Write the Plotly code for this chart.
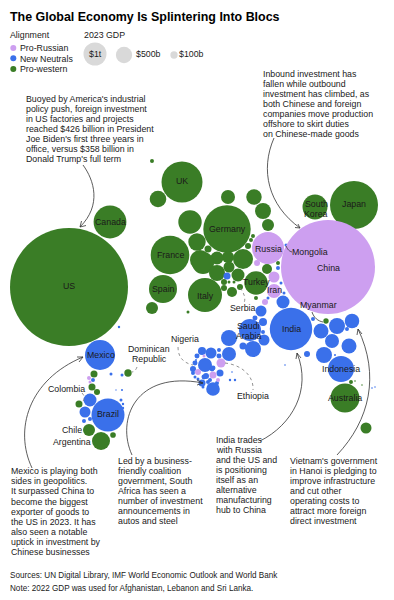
import plotly.graph_objects as go

GREEN = "#3a7d26"
BLUE = "#3a70ea"
PURPLE = "#cd9ff0"
GRAY = "#d9d9d9"
INK = "#1a1a1a"
FONT = "Liberation Sans"

# Bubble position on the packed layout and 2023 GDP in $ billions
western_x = [69,110,182,152,158,228,254,190,227,263,268,315,354,170,163,152,188,197,208,200,243,228,217,203,229,217,238,232,224,224,229,234,240,256,267,248,251,253,205,278,256,351,326,345,366,355,362,94,92,97,79,89,101,113,128]
western_y = [287,222,182,161,199,197,197,222,229,211,225,207,205,255,289,308,312,242,249,260,259,257,258,263,267,273,275,292,288,282,282,282,287,283,269,246,240,236,295,263,298,382,321,398,428,381,385,374,387,392,404,430,441,435,373]
western_gdp = [26316,2033,3177,30,520,370,450,1035,4246,480,272,1180,4355,2816,1482,272,17,572,93,756,756,272,319,915,229,484,319,189,68,68,17,17,68,1035,189,68,30,30,2185,30,30,30,55,1590,229,5,4,93,93,68,93,272,612,60,103]

neutral_x = [227,286,278,281,284,268,283,261,263,255,291,250,229,253,229,264,243,263,313,321,337,332,352,347,349,324,335,307,285,341,372,375,202,211,219,219,205,197,195,193,220,213,202,204,212,208,217,195,203,230,235,232,196,100,93,90,85,84,90,108,121,123,123,122,111,122,116,119,206,193,210,213,198]
neutral_y = [276,245,268,283,293,298,302,311,322,318,329,330,338,349,354,340,346,332,319,331,326,341,321,329,346,355,355,354,365,369,388,387,351,353,350,356,365,356,363,369,373,389,383,377,369,382,383,377,387,380,380,372,360,355,380,400,412,421,419,415,400,404,408,375,374,390,390,327,376,373,380,368,379]
neutral_gdp = [93,17,30,17,17,17,319,229,121,47,3400,915,484,484,370,229,93,30,30,425,484,370,400,30,425,484,8,68,5,1278,5,4,121,229,30,47,370,47,47,68,93,350,93,47,47,30,30,17,17,11,11,5,8,1700,30,319,229,30,30,2058,17,11,11,17,17,8,3,11,68,30,30,47,17]

russian_x = [268,328,274,274,265,257,221,198,213,204,218,89,90]
russian_y = [248,267,277,291,302,263,363,372,375,356,380,378,382]
russian_gdp = [1935,16700,229,370,68,68,153,68,93,17,30,30,17]

legend_sizes = [1000, 500, 100]
legend_size_x = [95, 124, 174]
legend_size_y = [54, 55, 55]
legend_size_labels = ["$1t", "$500b", "$100b"]

SIZEREF = 3.78

fig = go.Figure()
for xs, ys, gs, col in [(western_x, western_y, western_gdp, GREEN),
                        (neutral_x, neutral_y, neutral_gdp, BLUE),
                        (russian_x, russian_y, russian_gdp, PURPLE)]:
    fig.add_trace(go.Scatter(x=xs, y=ys, mode="markers",
                             marker=dict(size=gs, sizemode="area", sizeref=SIZEREF, sizemin=0.5, opacity=1,
                                         color=col, line=dict(width=0))))
fig.add_trace(go.Scatter(x=legend_size_x, y=legend_size_y, mode="markers",
                         marker=dict(size=legend_sizes, sizemode="area", sizeref=SIZEREF, opacity=1,
                                     color=GRAY, line=dict(width=0))))
fig.add_trace(go.Scatter(x=[13.3, 13.3, 13.3], y=[48, 58.3, 69], mode="markers",
                         marker=dict(size=6, color=[PURPLE, BLUE, GREEN], opacity=1, line=dict(width=0))))

ann = []
BODY = 8.8
def txt(x, y, s, size=BODY, anchor="left", color=INK, bold=False):
    ann.append(dict(x=x, y=y, text=f"<b>{s}</b>" if bold else s, showarrow=False, xanchor=anchor, yanchor="middle",
                    xref="x", yref="y", borderpad=0, borderwidth=0,
                    font=dict(family=FONT, size=size, color=color)))

def block(x, y, lines, size=BODY, step=10.07):
    for i, line in enumerate(lines):
        txt(x, y + i * step, line, size)

txt(10.3, 17, "The Global Economy Is Splintering Into Blocs", 12.45, bold=True, color="#000000")
txt(10.3, 35, "Alignment")
txt(83.5, 35, "2023 GDP")
block(20, 48, ["Pro-Russian", "New Neutrals", "Pro-western"], step=10.5)
txt(95, 54, legend_size_labels[0], anchor="center")
txt(136, 54, legend_size_labels[1])
txt(178.7, 54, legend_size_labels[2])

block(25.5, 99, ["Buoyed by America's industrial", "policy push, foreign investment", "in US factories and projects",
                 "reached $426 billion in President", "Joe Biden's first three years in",
                 "office, versus $358 billion in", "Donald Trump's full term"])
block(262.5, 74, ["Inbound investment has", "fallen while outbound", "investment has climbed, as",
                  "both Chinese and foreign", "companies move production", "offshore to skirt duties",
                  "on Chinese-made goods"])
block(10.7, 471.3, ["Mexico is playing both", "sides in geopolitics.", "It surpassed China to",
                    "become the biggest", "exporter of goods to", "the US in 2023. It has",
                    "also seen a notable", "uptick in investment by", "Chinese businesses"])
block(117.5, 461, ["Led by a business-", "friendly coalition", "government, South", "Africa has seen a",
                   "number of investment", "announcements in", "autos and steel"])
block(216, 439.5, ["India trades", "with Russia", "and the US and", "is positioning", "itself as an",
                   "alternative", "manufacturing", "hub to China"])
block(289.5, 461, ["Vietnam's government", "in Hanoi is pledging to", "improve infrastructure",
                   "and cut other", "operating costs to", "attract more foreign", "direct investment"])
txt(10.3, 575.7, "Sources: UN Digital Library, IMF World Economic Outlook and World Bank", 8.15)
txt(10.3, 588, "Note: 2022 GDP was used for Afghanistan, Lebanon and Sri Lanka.", 8.15)

labels = [("US",69,286),("Canada",110,222),("UK",182,181),("Germany",227,229),("France",170,254.5),
          ("Spain",163,289),("Italy",205,296),("Russia",268,249),("Mongolia",310,252),("China",328,268),
          ("Turkey",256,282),("Iran",274,290),("Serbia",243,308),("Saudi",248,326),("Arabia",249,336),
          ("India",291,329),("Myanmar",318,305),("Indonesia",341,369),("Australia",345,398),
          ("Nigeria",185,339),("Ethiopia",253,396),("Dominican",149,349),("Republic",149,359),
          ("Colombia",66,389),("Chile",72,430),("Argentina",72,442),("Mexico",101,355),("Brazil",108,414),
          ("South",316,204),("Korea",316,214),("Japan",354,204)]
for s, x, y in labels:
    txt(x, y, s, anchor="center")

shapes = []
def curve(path, color="#333333", width=0.8, dash="solid"):
    shapes.append(dict(type="path", path=path, xref="x", yref="y",
                       line=dict(color=color, width=width, dash=dash)))

# Callout arrows
curve("M83,165 C94,180 102,205 80,227")
curve("M80,227 L81.5,221 M80,227 L86,225.5")
curve("M274,138 C260,170 268,205 300,228")
curve("M300,228 L295,227.5 M300,228 L298,224")
curve("M32,468 C14,430 28,380 83,357")
curve("M83,357 L77,357 M83,357 L79,362")
curve("M132,455 C116,420 135,370 203,383")
curve("M203,383 L197,380 M203,383 L197,385")
curve("M260,441 C292,425 312,390 297,353")
curve("M297,353 L296,359 M297,353 L301,358")
curve("M337,455 C370,420 380,375 358,329")
curve("M358,329 L357,335 M358,329 L362,334")
# Leader lines
curve("M286,246 C288,250 289,251 292,252")
curve("M312,312 C314,318 318,321 323,322")
curve("M240,288 C244,293 246,298 244,303", color="#777777", dash="dot")
curve("M178,347 C178,358 184,363 193,365", color="#777777", dash="dot")
curve("M225,363 C242,365 254,376 253,390", color="#777777", dash="dot")
curve("M82,393 C85,396 85,400 82,402", color="#777777", dash="dot")
curve("M137,367 C136,370 134,372 132,372", color="#777777", dash="dot")

fig.update_layout(width=394, height=600, margin=dict(l=0, r=0, t=0, b=0),
                  autosize=False, showlegend=False, paper_bgcolor="white", plot_bgcolor="white",
                  xaxis=dict(range=[0, 394], visible=False, fixedrange=True),
                  yaxis=dict(range=[600, 0], visible=False, fixedrange=True),
                  annotations=ann, shapes=shapes)
fig.write_html("out.html", config={"displayModeBar": False},
               post_script="document.body.style.margin='0';")
